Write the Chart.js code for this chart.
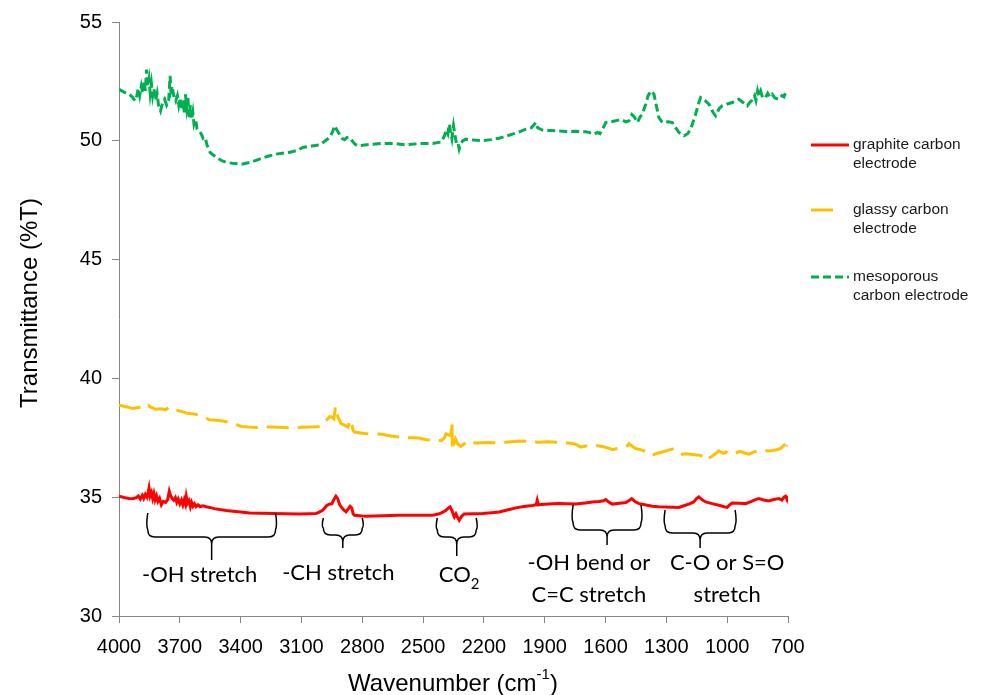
<!DOCTYPE html>
<html lang="en">
<head>
  <meta charset="UTF-8" />
  <title>FTIR spectra</title>
  <script src="https://cdn.jsdelivr.net/npm/chart.js"></script>
  <style>
    body {
      margin: 0;
      padding: 0;
      background: #fff;
    }
    canvas {
      display: block;
    }
  </style>
</head>
<body>
  <canvas id="irChart" width="982" height="695"></canvas>

  <script>
    // graphite carbon electrode (solid red)
    const graphiteWn = [4000, 3970, 3950, 3931, 3915, 3905, 3895, 3885, 3878, 3870, 3862, 3855, 3852, 3847, 3840, 3834, 3828, 3822, 3815, 3808, 3800, 3791, 3782, 3770, 3760, 3752, 3746, 3738, 3730, 3722, 3715, 3708, 3700, 3692, 3685, 3678, 3672, 3668, 3662, 3655, 3648, 3642, 3635, 3628, 3620, 3610, 3600, 3586, 3570, 3553, 3530, 3504, 3470, 3438, 3400, 3356, 3300, 3241, 3180, 3110, 3060, 3028, 3010, 2995, 2975, 2962, 2950, 2940, 2930, 2922, 2912, 2904, 2890, 2880, 2870, 2860, 2852, 2845, 2839, 2800, 2781, 2700, 2617, 2530, 2453, 2420, 2400, 2387, 2375, 2367, 2358, 2350, 2346, 2338, 2330, 2322, 2310, 2297, 2250, 2207, 2160, 2125, 2080, 2042, 2010, 1993, 1960, 1942, 1937, 1932, 1900, 1860, 1829, 1790, 1747, 1700, 1665, 1630, 1610, 1599, 1585, 1567, 1530, 1500, 1485, 1471, 1455, 1435, 1400, 1369, 1340, 1304, 1270, 1238, 1210, 1189, 1165, 1150, 1140, 1125, 1106, 1070, 1041, 1015, 1000, 985, 975, 940, 909, 880, 860, 844, 820, 795, 770, 745, 730, 720, 712, 705, 700];
    const graphiteT = [35.04, 34.98, 34.95, 34.94, 34.98, 35.05, 34.92, 35.08, 34.95, 35.12, 35.0, 35.25, 35.38, 35.05, 35.2, 34.95, 35.15, 34.88, 35.05, 34.82, 34.95, 34.68, 34.82, 34.78, 34.9, 35.25, 35.08, 34.95, 34.87, 34.98, 34.78, 34.92, 34.72, 34.88, 34.68, 34.9, 34.72, 35.02, 34.75, 34.85, 34.6, 34.78, 34.62, 34.72, 34.6, 34.68, 34.6, 34.64, 34.6, 34.57, 34.52, 34.48, 34.44, 34.41, 34.38, 34.34, 34.32, 34.31, 34.3, 34.29, 34.3, 34.31, 34.38, 34.45, 34.65, 34.71, 34.72, 34.9, 35.04, 34.95, 34.7, 34.59, 34.45, 34.38, 34.5, 34.62, 34.55, 34.3, 34.24, 34.21, 34.2, 34.22, 34.24, 34.24, 34.24, 34.3, 34.38, 34.45, 34.55, 34.59, 34.45, 34.25, 34.17, 34.3, 34.15, 34.03, 34.2, 34.29, 34.3, 34.31, 34.35, 34.38, 34.47, 34.55, 34.6, 34.62, 34.65, 34.68, 34.87, 34.68, 34.7, 34.72, 34.73, 34.72, 34.71, 34.76, 34.8, 34.82, 34.85, 34.9, 34.8, 34.71, 34.75, 34.78, 34.85, 34.94, 34.82, 34.73, 34.67, 34.62, 34.6, 34.59, 34.58, 34.57, 34.65, 34.71, 34.8, 34.95, 35.01, 34.9, 34.8, 34.72, 34.66, 34.6, 34.57, 34.7, 34.76, 34.75, 34.73, 34.82, 34.9, 34.94, 34.88, 34.84, 34.9, 34.94, 34.88, 35.0, 35.04, 34.9, 35.05];

    // glassy carbon electrode (long dash orange)
    const glassyWn = [4000, 3960, 3931, 3900, 3870, 3855, 3849, 3820, 3790, 3770, 3750, 3725, 3701, 3680, 3660, 3630, 3602, 3575, 3553, 3520, 3488, 3438, 3410, 3397, 3360, 3323, 3280, 3241, 3190, 3143, 3100, 3061, 3030, 3003, 2985, 2970, 2960, 2950, 2940, 2932, 2926, 2920, 2905, 2888, 2870, 2860, 2855, 2845, 2839, 2781, 2740, 2700, 2660, 2617, 2584, 2550, 2519, 2486, 2436, 2410, 2395, 2387, 2370, 2362, 2358, 2355, 2350, 2340, 2330, 2313, 2297, 2281, 2260, 2240, 2180, 2125, 2070, 2010, 1970, 1928, 1880, 1846, 1800, 1764, 1740, 1723, 1690, 1648, 1610, 1580, 1567, 1540, 1510, 1490, 1484, 1470, 1451, 1420, 1394, 1380, 1369, 1345, 1320, 1290, 1262, 1240, 1222, 1200, 1180, 1150, 1131, 1115, 1106, 1090, 1074, 1055, 1041, 1020, 1005, 992, 960, 940, 926, 910, 893, 870, 850, 828, 800, 778, 755, 737, 725, 712, 705, 700];
    const glassyT = [38.87, 38.8, 38.73, 38.78, 38.75, 38.87, 38.82, 38.7, 38.72, 38.68, 38.8, 38.68, 38.63, 38.58, 38.52, 38.5, 38.45, 38.35, 38.26, 38.24, 38.21, 38.12, 38.02, 37.98, 37.95, 37.93, 37.96, 37.95, 37.93, 37.91, 37.94, 37.95, 37.96, 37.98, 38.15, 38.3, 38.4, 38.37, 38.3, 38.82, 38.6, 38.37, 38.1, 38.03, 37.95, 38.26, 38.2, 37.8, 37.74, 37.67, 37.66, 37.65, 37.58, 37.53, 37.51, 37.5, 37.49, 37.42, 37.39, 37.38, 37.5, 37.67, 37.6, 37.7, 38.16, 36.97, 37.2, 37.45, 37.25, 37.14, 37.25, 37.37, 37.3, 37.28, 37.3, 37.28, 37.33, 37.37, 37.33, 37.31, 37.33, 37.31, 37.3, 37.26, 37.2, 37.11, 37.17, 37.18, 37.12, 37.05, 37.0, 37.05, 37.1, 37.18, 37.25, 37.15, 37.05, 36.98, 36.9, 36.8, 36.76, 36.85, 36.9, 36.98, 37.05, 36.9, 36.81, 36.83, 36.81, 36.78, 36.76, 36.62, 36.55, 36.65, 36.72, 36.85, 36.95, 36.85, 36.9, 36.81, 36.85, 36.92, 36.9, 36.85, 36.81, 36.9, 36.95, 37.0, 36.95, 36.97, 37.0, 37.05, 37.15, 37.23, 37.0, 37.2];

    // mesoporous carbon electrode (short dash green)
    const mesoWn = [4000, 3975, 3950, 3935, 3920, 3912, 3905, 3898, 3890, 3883, 3876, 3870, 3864, 3858, 3852, 3846, 3840, 3834, 3828, 3820, 3812, 3805, 3795, 3785, 3775, 3765, 3755, 3748, 3744, 3738, 3730, 3720, 3712, 3705, 3698, 3690, 3684, 3678, 3672, 3666, 3660, 3654, 3648, 3642, 3636, 3630, 3622, 3615, 3605, 3595, 3585, 3575, 3565, 3550, 3520, 3490, 3470, 3430, 3390, 3350, 3307, 3265, 3225, 3160, 3120, 3094, 3050, 3011, 2990, 2960, 2945, 2937, 2925, 2913, 2900, 2888, 2875, 2864, 2850, 2835, 2823, 2760, 2700, 2640, 2584, 2520, 2453, 2410, 2395, 2385, 2378, 2371, 2365, 2358, 2350, 2342, 2335, 2328, 2322, 2315, 2305, 2289, 2250, 2207, 2165, 2125, 2090, 2059, 2025, 1993, 1965, 1944, 1935, 1911, 1870, 1840, 1796, 1750, 1698, 1670, 1657, 1640, 1628, 1616, 1605, 1599, 1575, 1550, 1525, 1500, 1484, 1470, 1458, 1443, 1430, 1419, 1402, 1390, 1377, 1361, 1350, 1337, 1320, 1290, 1271, 1250, 1238, 1213, 1195, 1180, 1156, 1140, 1131, 1110, 1090, 1070, 1057, 1040, 1025, 1000, 975, 942, 920, 901, 890, 877, 865, 858, 850, 844, 835, 825, 811, 800, 790, 778, 765, 745, 730, 720, 712, 700];
    const mesoT = [52.17, 52.05, 51.96, 51.85, 51.68, 51.9, 52.2, 51.9, 52.3, 52.0, 52.5, 52.1, 53.0, 52.3, 52.6, 52.0, 52.4, 51.9, 52.2, 51.7, 52.0, 51.5, 51.26, 51.6, 51.75, 51.5, 51.7, 52.73, 52.1, 52.3, 51.9, 51.68, 51.9, 51.5, 51.8, 51.3, 51.7, 51.2, 51.95, 51.4, 51.8, 51.0, 51.5, 50.9, 51.2, 50.7, 50.9, 50.5, 50.42, 50.3, 50.1, 50.15, 49.8, 49.5, 49.3, 49.15, 49.09, 49.04, 49.02, 49.1, 49.23, 49.35, 49.44, 49.51, 49.6, 49.72, 49.78, 49.83, 49.95, 50.15, 50.4, 50.63, 50.45, 50.28, 50.1, 50.05, 50.14, 50.14, 50.0, 49.85, 49.79, 49.85, 49.89, 49.88, 49.83, 49.88, 49.89, 49.95, 50.2, 50.45, 50.3, 50.7, 50.4, 50.1, 50.63, 50.2, 49.85, 49.9, 49.65, 49.85, 50.0, 50.07, 50.03, 50.0, 50.05, 50.11, 50.2, 50.28, 50.38, 50.49, 50.55, 50.77, 50.55, 50.45, 50.43, 50.42, 50.39, 50.4, 50.38, 50.33, 50.28, 50.35, 50.3, 50.49, 50.65, 50.77, 50.8, 50.84, 50.9, 50.8, 50.84, 51.1, 51.0, 50.77, 51.0, 51.12, 51.54, 51.9, 52.1, 51.96, 51.5, 50.98, 50.77, 50.8, 50.77, 50.5, 50.35, 50.21, 50.3, 50.49, 51.12, 51.6, 51.82, 51.7, 51.54, 51.2, 51.05, 51.35, 51.47, 51.55, 51.61, 51.75, 51.6, 51.47, 51.6, 51.71, 51.9, 51.7, 52.1, 51.9, 52.1, 51.8, 51.82, 52.0, 51.85, 51.96, 51.8, 51.75, 51.9, 51.85, 52.03, 52.0];

    const seriesNames = ['graphite carbon electrode', 'glassy carbon electrode', 'mesoporous carbon electrode'];
    const legendLines = [['graphite carbon', 'electrode'], ['glassy carbon', 'electrode'], ['mesoporous', 'carbon electrode']];

    // band assignments: bracket span (cm-1) and label
    const bandFrom = [3858, 2992, 2430, 1760, 1306];
    const bandTo = [3228, 2800, 2238, 1425, 961];
    const bandLabels = [['-OH stretch'], ['-CH stretch'], ['CO|2'], ['-OH bend or', 'C=C stretch'], ['C-O or S=O', 'stretch']];

    const toXY = (wn, t) => wn.map((w, i) => ({ x: w, y: t[i] }));

    const FONT = '"Liberation Sans", Arial, sans-serif';
    const NOTE_FONT = 'Lato, "Open Sans", sans-serif';

    // bracket geometry in px (top, mid, tip), label x centre (cm-1) and label baseline y
    const braceY = [[513, 537, 560], [518, 535, 548], [518, 537, 556], [505, 530, 545], [510, 533, 548]];
    const labelX = [3602, 2918, 2322, 1682, 1000];
    const labelY = [[575], [573], [575], [563, 595], [563, 595]];

    const overlay = {
      id: 'overlay',
      afterDraw(chart) {
        const { ctx, scales: { x, y } } = chart;
        ctx.save();
        ctx.fillStyle = '#000';

        // axis titles
        ctx.font = '24px ' + FONT;
        ctx.textAlign = 'center';
        ctx.textBaseline = 'middle';
        ctx.save();
        ctx.translate(30, 303);
        ctx.rotate(-Math.PI / 2);
        ctx.fillText('Transmittance (%T)', 0, 0);
        ctx.restore();

        const a = 'Wavenumber (cm', sup = '-1', b = ')';
        ctx.font = '24px ' + FONT;
        const wa = ctx.measureText(a).width, wb = ctx.measureText(b).width;
        ctx.font = '15px ' + FONT;
        const ws = ctx.measureText(sup).width;
        let sx = 453 - (wa + ws + wb) / 2;
        ctx.textAlign = 'left';
        ctx.font = '24px ' + FONT;
        ctx.fillText(a, sx, 684);
        ctx.font = '15px ' + FONT;
        ctx.fillText(sup, sx + wa, 675);
        ctx.font = '24px ' + FONT;
        ctx.fillText(b, sx + wa + ws, 684);

        // brackets
        ctx.strokeStyle = '#000';
        ctx.lineWidth = 1.5;
        bandFrom.forEach((f, i) => {
          const x1 = x.getPixelForValue(f), x2 = x.getPixelForValue(bandTo[i]);
          const xc = (x1 + x2) / 2;
          const [yt, ym, yp] = braceY[i];
          const r = 7;
          ctx.beginPath();
          ctx.moveTo(x1, yt);
          ctx.quadraticCurveTo(x1 - 2, (yt + ym) / 2, x1, ym - r);
          ctx.quadraticCurveTo(x1, ym, x1 + r, ym);
          ctx.lineTo(xc - r, ym);
          ctx.quadraticCurveTo(xc, ym, xc, ym + r);
          ctx.lineTo(xc, yp);
          ctx.moveTo(x2, yt);
          ctx.quadraticCurveTo(x2 + 2, (yt + ym) / 2, x2, ym - r);
          ctx.quadraticCurveTo(x2, ym, x2 - r, ym);
          ctx.lineTo(xc + r, ym);
          ctx.quadraticCurveTo(xc, ym, xc, ym + r);
          ctx.stroke();
        });

        // bracket labels
        ctx.textBaseline = 'middle';
        bandLabels.forEach((lines, i) => {
          const cx = x.getPixelForValue(labelX[i]);
          lines.forEach((txt, j) => {
            const ly = labelY[i][j];
            if (txt.includes('|')) {
              const [main, sub] = txt.split('|');
              ctx.font = '22px ' + NOTE_FONT;
              const wm = ctx.measureText(main).width;
              ctx.font = '15px ' + NOTE_FONT;
              const wsub = ctx.measureText(sub).width;
              const lx = cx - (wm + wsub) / 2;
              ctx.textAlign = 'left';
              ctx.font = '22px ' + NOTE_FONT;
              ctx.fillText(main, lx, ly);
              ctx.font = '15px ' + NOTE_FONT;
              ctx.fillText(sub, lx + wm, ly + 9);
            } else {
              ctx.textAlign = 'center';
              ctx.font = '22px ' + NOTE_FONT;
              ctx.fillText(txt, cx, ly);
            }
          });
        });

        // legend
        const legY = [145, 210, 277];
        ctx.textAlign = 'left';
        ctx.font = '15.5px ' + FONT;
        chart.data.datasets.forEach((ds, i) => {
          ctx.save();
          ctx.strokeStyle = ds.borderColor;
          ctx.lineWidth = ds.borderWidth;
          ctx.setLineDash(ds.borderDash || []);
          ctx.lineCap = ds.borderCapStyle || 'butt';
          ctx.beginPath();
          ctx.moveTo(811, legY[i]);
          ctx.lineTo(i === 1 ? 836 : 849, legY[i]);
          ctx.stroke();
          ctx.restore();
          ctx.fillStyle = '#1a1a1a';
          legendLines[i].forEach((t, j) => ctx.fillText(t, 853, legY[i] + j * 19));
        });

        ctx.restore();
      }
    };

    const ctx = document.getElementById('irChart').getContext('2d');
    const chart = new Chart(ctx, {
      type: 'line',
      data: {
        datasets: [
          {
            label: seriesNames[0],
            data: toXY(graphiteWn, graphiteT),
            borderColor: '#FF0000',
            borderWidth: 3,
            pointRadius: 0,
            tension: 0
          },
          {
            label: seriesNames[1],
            data: toXY(glassyWn, glassyT),
            borderColor: '#FFC000',
            borderWidth: 3,
            borderDash: [22, 9],
            pointRadius: 0,
            tension: 0
          },
          {
            label: seriesNames[2],
            data: toXY(mesoWn, mesoT),
            borderColor: '#00B050',
            borderWidth: 3,
            borderDash: [8, 4],
            pointRadius: 0,
            tension: 0
          }
        ]
      },
      options: {
        responsive: false,
        animation: false,
        devicePixelRatio: 1,
        layout: { padding: { top: 21, right: 194, left: 0, bottom: 0 } },
        plugins: {
          legend: { display: false },
          tooltip: { enabled: false }
        },
        scales: {
          x: {
            type: 'linear',
            reverse: true,
            min: 700,
            max: 4000,
            afterFit: s => { s.height = 79; },
            ticks: { stepSize: 300, color: '#000', padding: 12, font: { size: 20, family: FONT }, maxRotation: 0, callback: v => String(v) },
            grid: { drawOnChartArea: false, drawTicks: true, tickLength: 7, color: '#868686' },
            border: { color: '#868686', width: 1 }
          },
          y: {
            min: 30,
            max: 55,
            afterFit: s => { s.width = 119; },
            ticks: { stepSize: 5, color: '#000', padding: 10, font: { size: 20, family: FONT } },
            grid: { drawOnChartArea: false, drawTicks: true, tickLength: 7, color: '#868686' },
            border: { color: '#868686', width: 1 }
          }
        }
      },
      plugins: [overlay]
    });
  </script>
</body>
</html>
